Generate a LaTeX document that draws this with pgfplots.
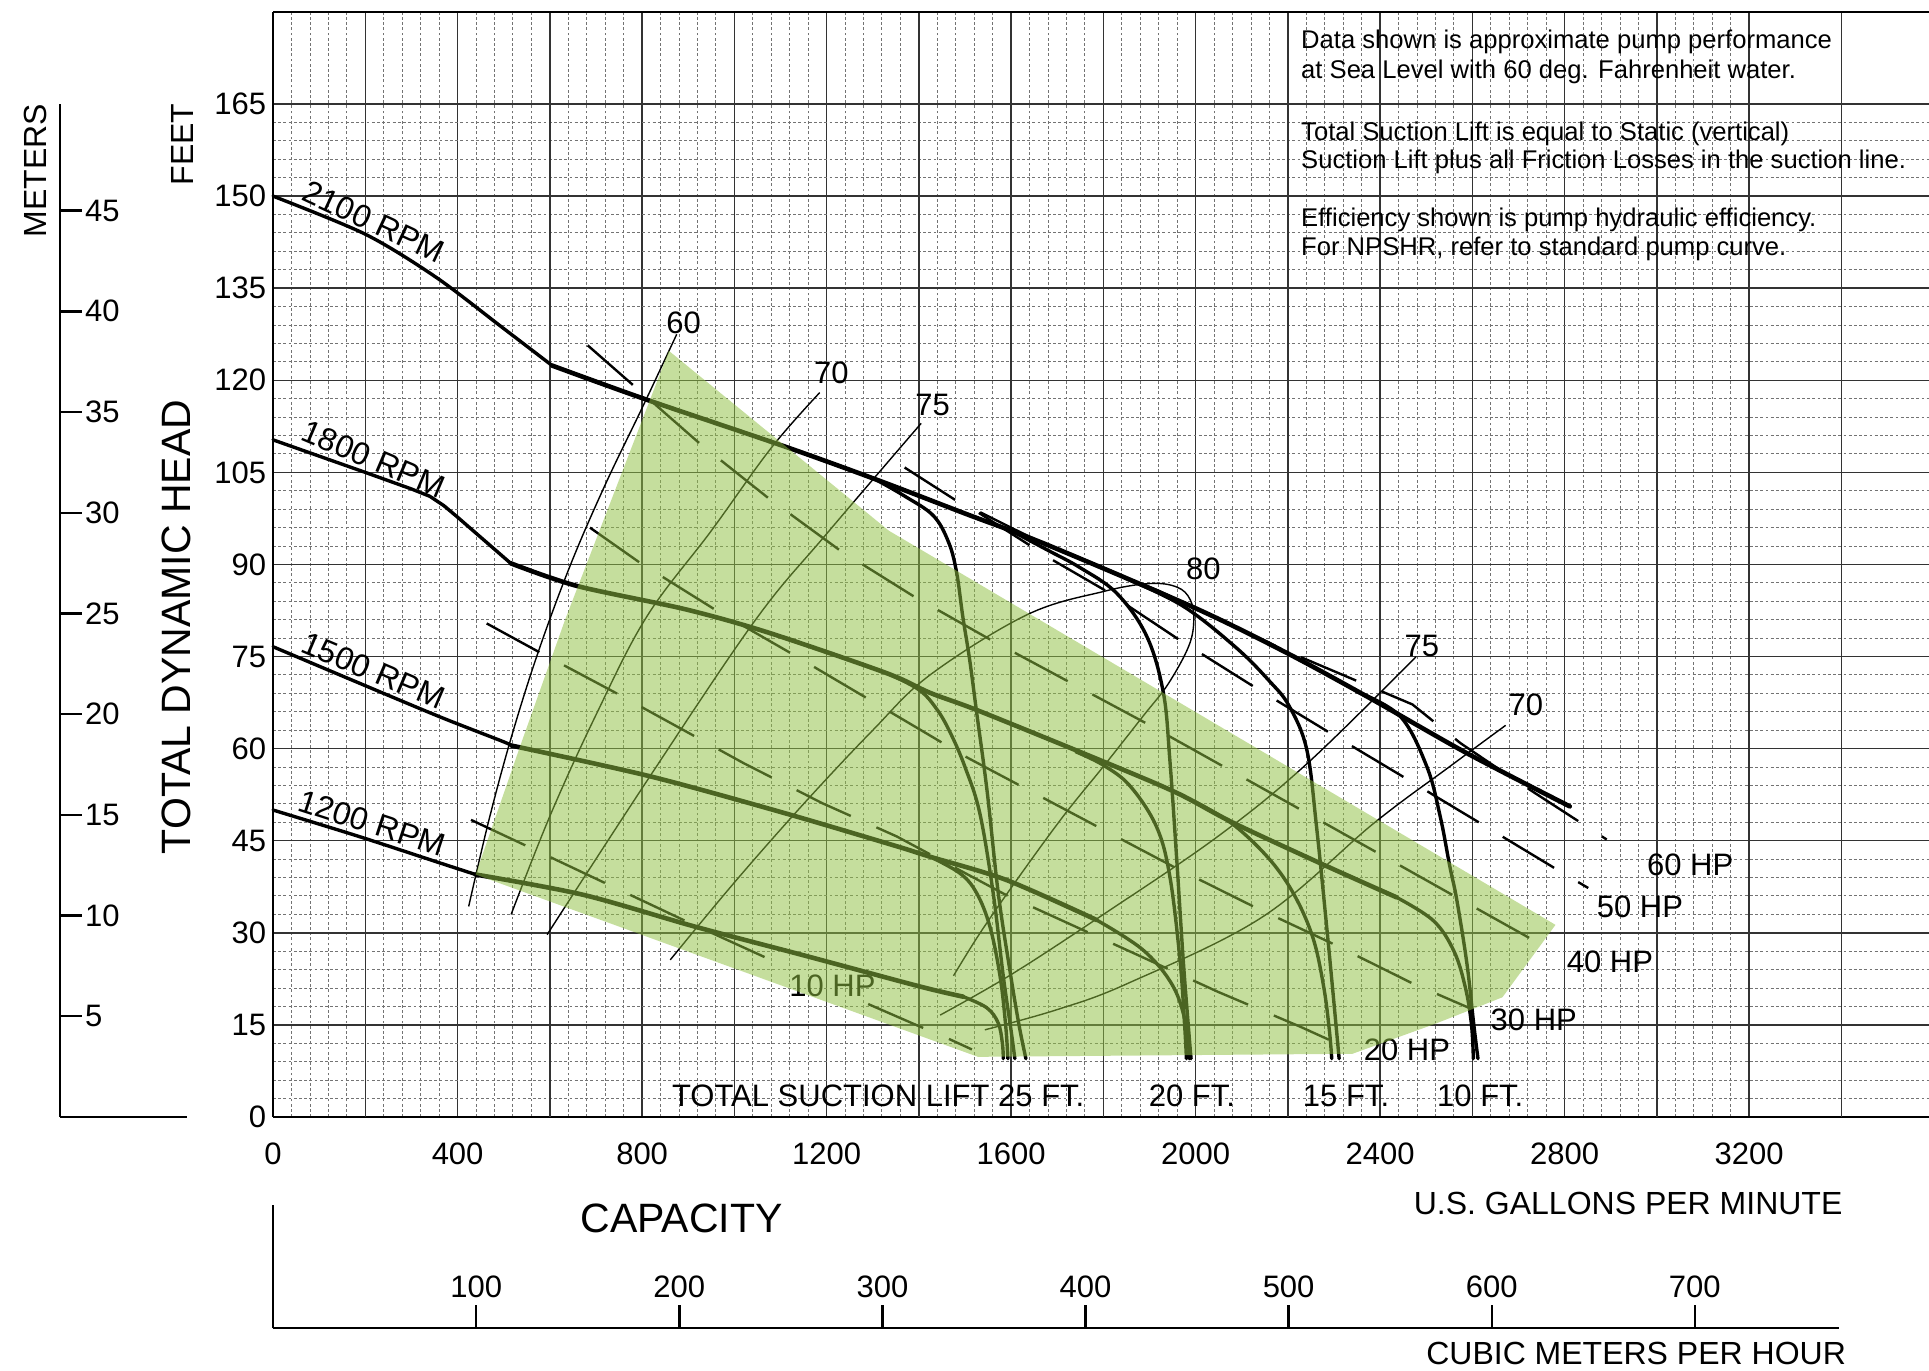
\documentclass[border=0pt]{standalone}
\usepackage{fontspec}
\setmainfont{Liberation Sans}
\usepackage{pgfplots}
\pgfplotsset{compat=1.18}
\definecolor{ovl}{RGB}{144,192,67}
\newcommand\fTick{\fontsize{15.5}{18}\selectfont}
\newcommand\fTitle{\fontsize{20.5}{24}\selectfont}
\newcommand\fAx{\fontsize{16}{19}\selectfont}
\newcommand\fLab{\fontsize{15.5}{18}\selectfont}
\newcommand\fRpm{\fontsize{16}{18}\selectfont}
\newcommand\fNote{\fontsize{12.8}{15}\selectfont}
\pgfplotsset{
  hc/.style={black, line width=1.7pt, line join=round, line cap=round, smooth, tension=0.5},
  hcp/.style={black, line width=1.7pt, line join=round, line cap=round},
  hct/.style={black, line width=2.3pt, line join=round, line cap=round, smooth, tension=0.5},
  br/.style={black, line width=1.7pt, line join=round, line cap=round, smooth, tension=0.6},
  ef/.style={black, line width=0.7pt, smooth, tension=0.6},
  hp/.style={black, line width=1.2pt, dash pattern=on 30pt off 14pt},
}
\begin{document}
\begin{tikzpicture}
\begin{axis}[
  at={(0pt,0pt)}, anchor=south west,
  scale only axis, width=828pt, height=552.5pt,
  xmin=0, xmax=3590, ymin=0, ymax=180,
  clip=false,
  axis x line*=bottom, axis y line*=left,
  axis line style={-, line width=1.2pt, black},
  xtick={0,400,...,3200},
  extra x ticks={200,600,...,3400}, extra x tick labels={},
  extra x tick style={grid=major},
  ytick={0,15,...,165},
  extra y ticks={180}, extra y tick labels={}, extra y tick style={grid=major},
  minor x tick num=9, minor y tick num=4,
  grid=both,
  major grid style={black!80, line width=0.75pt},
  minor grid style={black!55, line width=0.5pt, dash pattern=on 1.4pt off 1.2pt},
  major tick length=0pt, minor tick length=0pt,
  tick label style={font=\fTick},
  xticklabel style={yshift=-9.5pt},
  /pgf/number format/assume math mode=true,
  /pgf/number format/1000 sep={},
  no markers,
]
\draw[line width=1.2pt] (rel axis cs:0,1) -- (rel axis cs:1,1);

% ---------- HP lines ----------
\addplot[hp] coordinates {(1369,105.8) (1477,100.6) (1640,94.5) (1920,85.7) (2200,75.8) (2470,67.2) (2574,60.9) (2700,54.5) (2891,45.2)};
\addplot[hp] coordinates {(1530,98.4) (1693,90.6) (1801,85.9) (1963,77.8) (2124,70.2) (2286,62.8) (2448,55.5) (2616,47.9) (2779,40.5) (2851,37.3)};
\addplot[hp] coordinates {(682,125.7) (925,109.7) (1074,100.8) (1227,92.4) (1389,84.8) (1554,77.8) (1891,64.2) (2222,50.3) (2556,36.2) (2725,29.1)};
\addplot[hp] coordinates {(687,96) (795,90.3) (957,82.7) (1119,75.7) (1506,58.5) (1787,47.3) (1951,40.8) (2125,34.3) (2295,28.3) (2469,21.8) (2595,17.7)};
\addplot[hp] coordinates {(463,80.4) (575,75.8) (745,69) (1021,57.6) (1191,51.1) (1352,45.7) (1588,36.2) (1874,26.4) (2048,20.4) (2227,14.7) (2338,10.9)};
\addplot[hp] coordinates {(429,48.4) (551,44.1) (720,38.1) (895,31.9) (1070,25.9) (1110,24.6)};
\addplot[hp] coordinates {(1290,18.4) (1400,14.8) (1454,13.1) (1515,11)};

% ---------- efficiency lines ----------
\addplot[ef] coordinates {(424,34.3) (468,48.4) (517,62) (575,75.8) (645,90) (720,103) (800,115.5) (875,127.5)};
\addplot[ef] coordinates {(516,33) (600,49) (700,65.5) (810,81.5) (950,95.5) (1080,109) (1185,118)};
\addplot[ef] coordinates {(594,29.7) (817,55.5) (1046,81) (1200,95) (1405,113)};
\addplot[ef] coordinates {(861,25.6) (1000,38.2) (1150,51) (1300,63) (1424,72) (1634,81.8) (1800,85.6) (1901,86.9) (1960,86.3) (1988,84.3) (1996,81) (1985,76.7) (1940,70.5) (1886,65.3) (1800,57.1) (1713,49) (1612,38.6) (1532,29.9) (1475,23)};
\addplot[ef] coordinates {(2478,75) (2242,57.6) (2048,45.7) (1800,33) (1600,23.2) (1446,16.6)};
\addplot[ef] coordinates {(2672,63.8) (2551,57.1) (2387,47.9) (2145,32.6) (1854,21.8) (1700,17.5) (1543,14.2)};

% ---------- head curves ----------
\addplot[hc] coordinates {(0,150) (200,143.8) (353,136.8) (497,128.6) (605,122.4)};
\addplot[hct] coordinates {(605,122.4) (804,117) (1110,109.2) (1316,103.6) (1500,98.3) (1675,93.3) (1999,82.9) (2200,75.5) (2376,68.3) (2587,59.3) (2811,50.6)};
\addplot[hcp] coordinates {(0,110.3) (200,105) (300,102.3) (340,101.1) (370,99.6) (400,97.7) (515,90.2)};
\addplot[hct] coordinates {(515,90.2) (659,86.5) (894,82.7) (1074,78.9) (1330,72.3) (1424,69.1) (1532,66.1) (1800,57.9) (1959,52.8) (2082,47.9) (2277,41.1) (2435,35.8)};
\addplot[br] coordinates {(2435,35.8) (2515,32) (2560,27) (2585,21) (2598,15) (2602,9.5)};
\addplot[hc] coordinates {(0,76.6) (186,70.7) (361,65.2) (497,61.2) (517,60.5)};
\addplot[hct] coordinates {(517,60.5) (817,55.5) (1109,49.5) (1352,44.1) (1424,42.4) (1590,38.6) (1785,32.1)};
\addplot[br] coordinates {(1785,32.1) (1886,27.2) (1951,21.3) (1980,14.7) (1986,9.5)};
\addplot[hc] coordinates {(0,50) (186,45.7) (361,41.4) (439,39.5)};
\addplot[hct] coordinates {(439,39.5) (672,36.2) (915,31.0) (1157,26.2) (1400,21.3) (1496,19.6)};
\addplot[br] coordinates {(1496,19.6) (1547,17.8) (1572,15.3) (1581,12) (1583,9.5)};

% ---------- suction-lift branches ----------
\addplot[br] coordinates {(1300,104.1) (1370,101.1) (1432,97.9) (1465,93.5) (1482,88.6) (1495,81.6) (1510,74.5) (1525,66) (1548,53) (1572,36.5) (1597,24) (1617,15) (1632,9.5)};
\addplot[br] coordinates {(1330,72.3) (1400,69.6) (1440,66.3) (1470,62.3) (1500,57) (1532,49.5) (1561,36.5) (1583,22.9) (1600,14) (1608,9.5)};
\addplot[br] coordinates {(1424,42.4) (1489,39.7) (1525,36.5) (1554,31) (1576,22.9) (1588,15) (1593,9.5)};
\addplot[br] coordinates {(1600,95.5) (1680,92.3) (1749,89.5) (1829,85.3) (1894,78.3) (1930,69.1) (1944,58.2) (1959,41.9) (1973,25.6) (1985,14) (1990,9.5)};
\addplot[br] coordinates {(1740,59.5) (1800,57.3) (1858,53.9) (1915,47.3) (1944,39.2) (1966,25.6) (1976,15) (1980,9.5)};
\addplot[br] coordinates {(1850,87.7) (1973,83.2) (2087,76.5) (2160,71) (2203,66.9) (2241,59.8) (2262,47.3) (2284,31) (2298,20) (2311,9.5)};
\addplot[br] coordinates {(2000,51.3) (2082,47.6) (2161,41.9) (2215,36) (2255,29) (2278,21) (2290,14) (2295,9.5)};
\addplot[br] coordinates {(2349,69.3) (2443,65.3) (2501,57.1) (2530,49) (2551,40.8) (2566,35.4) (2588,25) (2603,15) (2612,9.5)};

% ---------- labels ----------
\node[font=\fLab, inner sep=0pt] at (axis cs:889.7,129.4) {60};
\node[font=\fLab, inner sep=0pt] at (axis cs:1210.5,121.3) {70};
\node[font=\fLab, inner sep=0pt] at (axis cs:1430,116) {75};
\node[font=\fLab, inner sep=0pt] at (axis cs:2016.6,89.3) {80};
\node[font=\fLab, inner sep=0pt] at (axis cs:2490.6,76.8) {75};
\node[font=\fLab, inner sep=0pt] at (axis cs:2716,67.1) {70};
\node[font=\fLab, inner sep=0pt] at (axis cs:3072,41.0) {60 HP};
\node[font=\fLab, inner sep=0pt] at (axis cs:2963,34.3) {50 HP};
\node[font=\fLab, inner sep=0pt] at (axis cs:2898,25.3) {40 HP};
\node[font=\fLab, inner sep=0pt] at (axis cs:2733,15.8) {30 HP};
\node[font=\fLab, inner sep=0pt] at (axis cs:2458,10.9) {20 HP};
\node[font=\fLab, inner sep=0pt] at (axis cs:1212.7,21.3) {10 HP};
\node[font=\fLab, inner sep=0pt, anchor=west] at (axis cs:864,3.4) {TOTAL SUCTION LIFT 25 FT.};
\node[font=\fLab, inner sep=0pt] at (axis cs:1992,3.4) {20 FT.};
\node[font=\fLab, inner sep=0pt] at (axis cs:2326,3.4) {15 FT.};
\node[font=\fLab, inner sep=0pt] at (axis cs:2617,3.4) {10 FT.};
\node[font=\fRpm, inner sep=1.5pt, anchor=south, rotate=-25] at (axis cs:205,143.7) {2100 RPM};
\node[font=\fRpm, inner sep=1.5pt, anchor=south, rotate=-23] at (axis cs:205,105) {1800 RPM};
\node[font=\fRpm, inner sep=1.5pt, anchor=south, rotate=-23] at (axis cs:205,70.5) {1500 RPM};
\node[font=\fRpm, inner sep=1.5pt, anchor=south, rotate=-18] at (axis cs:205,45.6) {1200 RPM};
\node[font=\fNote, anchor=base west, inner sep=0pt] at (axis cs:2228,174.0) {Data shown is approximate pump performance};
\node[font=\fNote, anchor=base west, inner sep=0pt] at (axis cs:2228,169.2) {at Sea Level with 60 deg. Fahrenheit water.};
\node[font=\fNote, anchor=base west, inner sep=0pt] at (axis cs:2228,159.1) {Total Suction Lift is equal to Static (vertical)};
\node[font=\fNote, anchor=base west, inner sep=0pt] at (axis cs:2228,154.5) {Suction Lift plus all Friction Losses in the suction line.};
\node[font=\fNote, anchor=base west, inner sep=0pt] at (axis cs:2228,145.0) {Efficiency shown is pump hydraulic efficiency.};
\node[font=\fNote, anchor=base west, inner sep=0pt] at (axis cs:2228,140.4) {For NPSHR, refer to standard pump curve.};

% ---------- operating region overlay ----------
\addplot[draw=none, fill=ovl, fill opacity=0.52] coordinates {(439,39.5) (536,60.5) (633,81) (858,124.8) (1335,95.5) (2780,31.3) (2665,19.5) (2520,15.2) (2340,10.3) (1528,9.8)} -- cycle;
\end{axis}

% meters axis
\begin{axis}[
  at={(-106.55pt,0pt)}, anchor=south west,
  scale only axis, width=63.3pt, height=506.5pt,
  xmin=0, xmax=1, ymin=0, ymax=50.292,
  axis x line*=bottom, axis y line*=left,
  axis line style={-, line width=1.2pt, black},
  xtick=\empty, ytick={5,10,...,45},
  tick align=inside, major tick length=10.8pt,
  major tick style={line width=1.2pt, black},
  tick label style={font=\fTick},
  yticklabel style={anchor=west, xshift=9pt},
  /pgf/number format/assume math mode=true,
]
\end{axis}

% cubic meters per hour axis
\begin{axis}[
  at={(0pt,-105.65pt)}, anchor=south west,
  scale only axis, width=782.95pt, height=61.65pt,
  xmin=0, xmax=771, ymin=0, ymax=1,
  axis x line*=bottom, axis y line*=left,
  axis line style={-, line width=1.2pt, black},
  ytick=\empty, xtick={100,200,...,700},
  tick align=inside, major tick length=11.7pt,
  major tick style={line width=1.2pt, black},
  tick label style={font=\fTick},
  xticklabel style={anchor=south, yshift=11.5pt},
  /pgf/number format/assume math mode=true,
]
\end{axis}

\node[font=\fTitle, rotate=90, inner sep=0pt] at (-48.55pt,245pt) {TOTAL DYNAMIC HEAD};
\node[font=\fAx, rotate=90, inner sep=0pt] at (-45.2pt,486.25pt) {FEET};
\node[font=\fAx, rotate=90, inner sep=0pt] at (-119pt,473.3pt) {METERS};
\node[font=\fTitle, inner sep=0pt] at (204.2pt,-50.75pt) {CAPACITY};
\node[font=\fAx, inner sep=0pt] at (677.5pt,-43.05pt) {U.S. GALLONS PER MINUTE};
\node[font=\fAx, inner sep=0pt] at (681.5pt,-118.1pt) {CUBIC METERS PER HOUR};

\pgfresetboundingbox
\useasboundingbox (-136.55pt,-127pt) rectangle (827.95pt,558.5pt);
\end{tikzpicture}
\end{document}
